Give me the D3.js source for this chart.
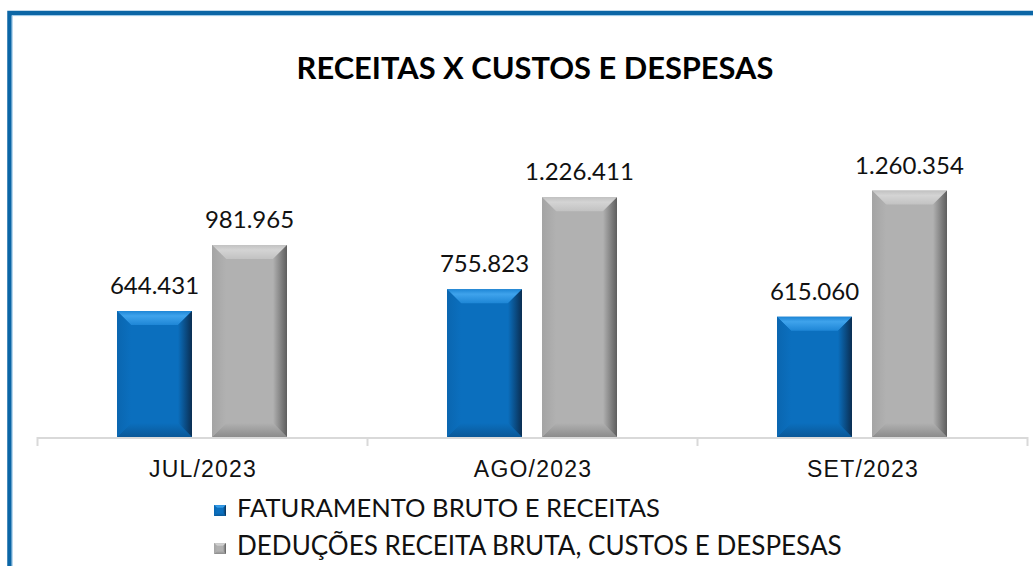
<!DOCTYPE html>
<html><head><meta charset="utf-8">
<script src="https://cdn.jsdelivr.net/npm/d3@7"></script>
<style>html,body{margin:0;padding:0;background:#fff;overflow:hidden}</style>
</head><body>
<svg id="chart" width="1033" height="566"></svg>
<script>
const title = "RECEITAS X CUSTOS E DESPESAS";
const categories = ["JUL/2023", "AGO/2023", "SET/2023"];
const seriesNames = ["FATURAMENTO BRUTO E RECEITAS", "DEDUÇÕES RECEITA BRUTA, CUSTOS E DESPESAS"];
const faturamento = [644431, 755823, 615060];
const deducoes = [981965, 1226411, 1260354];
const valueLabels = [["644.431", "755.823", "615.060"], ["981.965", "1.226.411", "1.260.354"]];
const seriesValues = [faturamento, deducoes];

const palettes = [
  {main:"#0B6FBE", top:"#3FA3EC", topIn:"#1E86D6", left:"#0A66B0", right:"#0A2E52", bottom:"#0A5898"},
  {main:"#B1B1B1", top:"#D4D4D4", topIn:"#C2C2C2", left:"#A4A4A4", right:"#5E5E5E", bottom:"#8C8C8C"}
];

const svg = d3.select("#chart");
const defs = svg.append("defs");

// frame
svg.append("path").attr("d","M9.5,566 L9.5,13 L1033,13").attr("fill","none").attr("stroke","#0B66A6").attr("stroke-width",4.5);
svg.append("path").attr("d","M12.2,566 L12.2,15.6 L1033,15.6").attr("fill","none").attr("stroke","#9CC8E8").attr("stroke-width",1);

const x = d3.scaleBand().domain(categories).range([37, 1027]);
const xs = d3.scaleBand().domain([0,1]).range([80, 250]).paddingInner(0.2105);
const y = d3.scaleLinear().domain([0, 1400000]).range([437, 163.3]);

// gradients
palettes.forEach((p,i)=>{
  const gt = defs.append("linearGradient").attr("id","gt"+i).attr("x1",0).attr("y1",0).attr("x2",0).attr("y2",1);
  gt.append("stop").attr("offset","0%").attr("stop-color",p.topIn);
  gt.append("stop").attr("offset","35%").attr("stop-color",p.top);
  gt.append("stop").attr("offset","100%").attr("stop-color",p.topIn);
  const gr = defs.append("linearGradient").attr("id","gr"+i).attr("x1",0).attr("y1",0).attr("x2",1).attr("y2",0);
  gr.append("stop").attr("offset","0%").attr("stop-color",p.main);
  gr.append("stop").attr("offset","100%").attr("stop-color",p.right);
  const gb = defs.append("linearGradient").attr("id","gb"+i).attr("x1",0).attr("y1",0).attr("x2",0).attr("y2",1);
  gb.append("stop").attr("offset","0%").attr("stop-color",p.main);
  gb.append("stop").attr("offset","100%").attr("stop-color",p.bottom);
  const gl = defs.append("linearGradient").attr("id","gl"+i).attr("x1",0).attr("y1",0).attr("x2",1).attr("y2",0);
  gl.append("stop").attr("offset","0%").attr("stop-color",p.left);
  gl.append("stop").attr("offset","100%").attr("stop-color",p.main);
});

function bevel(g, x0, y0, w, h, i, b){
  const p = palettes[i];
  const x1 = x0 + w, y1 = y0 + h;
  b = Math.min(b, w/2, h/2);
  g.append("rect").attr("x",x0).attr("y",y0).attr("width",w).attr("height",h).attr("fill",p.main);
  g.append("polygon").attr("points",[[x0,y0],[x1,y0],[x1-b,y0+b],[x0+b,y0+b]].join(" ")).attr("fill",`url(#gt${i})`);
  g.append("polygon").attr("points",[[x0,y1],[x1,y1],[x1-b,y1-b],[x0+b,y1-b]].join(" ")).attr("fill",`url(#gb${i})`);
  g.append("polygon").attr("points",[[x0,y0],[x0+b,y0+b],[x0+b,y1-b],[x0,y1]].join(" ")).attr("fill",`url(#gl${i})`);
  g.append("polygon").attr("points",[[x1,y0],[x1-b,y0+b],[x1-b,y1-b],[x1,y1]].join(" ")).attr("fill",`url(#gr${i})`);
}

// axis
const axisY = y(0);
svg.append("line").attr("x1",x.range()[0]).attr("x2",x.range()[1]).attr("y1",axisY+1).attr("y2",axisY+1)
  .attr("stroke","#D9D9D9").attr("stroke-width",2);
const tickXs = categories.map(c=>x(c)).concat([x.range()[1]]);
svg.selectAll("line.tick").data(tickXs).join("line").attr("class","tick")
  .attr("x1",d=>d+0.5).attr("x2",d=>d+0.5).attr("y1",axisY).attr("y2",axisY+9)
  .attr("stroke","#D9D9D9").attr("stroke-width",2);

// bars
seriesValues.forEach((vals, si)=>{
  vals.forEach((v, ci)=>{
    const g = svg.append("g");
    const bx = x(categories[ci]) + xs(si);
    bevel(g, bx, y(v), xs.bandwidth(), y(0)-y(v), si, 14);
    svg.append("text").attr("x", bx + xs.bandwidth()/2).attr("y", y(v)-17)
      .attr("text-anchor","middle").attr("font-family","Lato, 'Open Sans', sans-serif")
      .attr("font-size",24).attr("fill","#111").text(valueLabels[si][ci]);
  });
});

// category labels
svg.selectAll("text.cat").data(categories).join("text").attr("class","cat")
  .attr("x",d=>x(d)+x.bandwidth()/2+1).attr("y",477).attr("text-anchor","middle")
  .attr("font-family","'Liberation Sans', Arial, sans-serif").attr("font-size",23)
  .attr("letter-spacing","1.2px").attr("fill","#111").text(d=>d);

function fit(sel, target){
  const n = sel.node();
  const len = n.getComputedTextLength();
  const fs = parseFloat(sel.attr("font-size"));
  sel.attr("font-size", fs*target/len);
}

// title
const t = svg.append("text").attr("x",535).attr("y",79).attr("text-anchor","middle")
  .attr("font-family","Lato, sans-serif").attr("font-weight","bold").attr("font-size",29)
  .attr("fill","#000").text(title);
fit(t, 477);

// legend
const legY = [510, 548];
const legW = [423, 605];
seriesNames.forEach((s,i)=>{
  const g = svg.append("g");
  bevel(g, 214, legY[i]-5, 12, 11, i, 3);
  const tx = svg.append("text").attr("x",237).attr("y",legY[i]+7)
    .attr("font-family","Lato, sans-serif").attr("font-size",20).attr("fill","#111").text(s);
  fit(tx, legW[i]);
});
</script>
</body></html>
